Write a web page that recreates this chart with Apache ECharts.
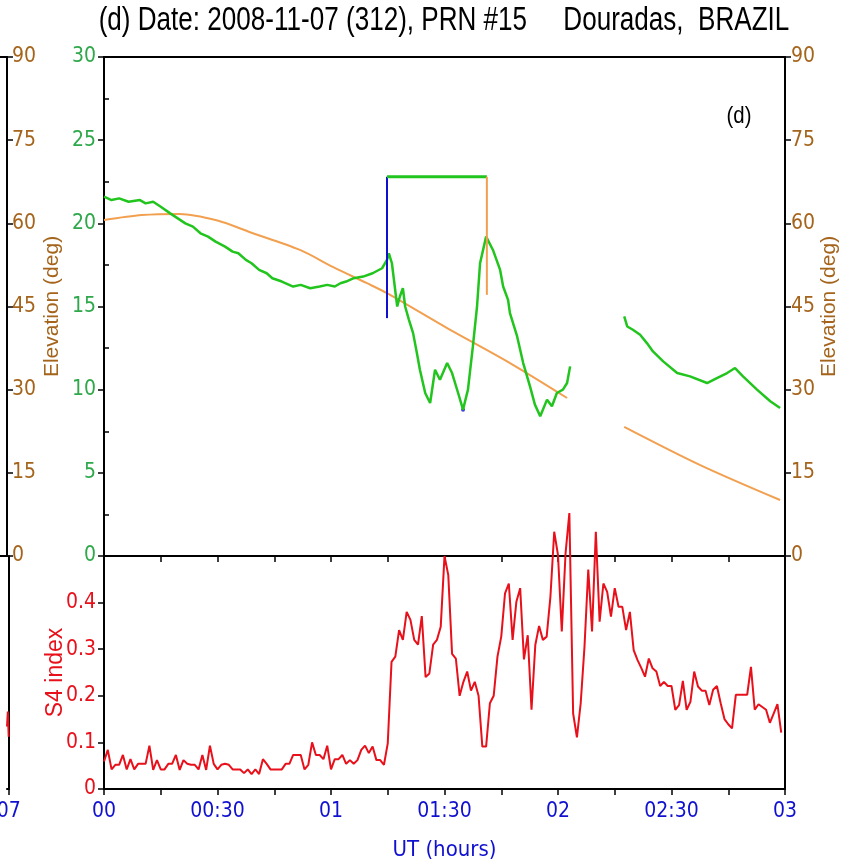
<!DOCTYPE html>
<html>
<head>
<meta charset="utf-8">
<script src="https://cdn.jsdelivr.net/npm/echarts@6/dist/echarts.min.js"></script>
<style>html,body{margin:0;padding:0;background:#fff}#c{width:850px;height:868px}</style>
</head>
<body>
<div id="c"></div>
<script>
// ---- data ----
const titleText = '(d) Date: 2008-11-07 (312), PRN #15     Douradas,  BRAZIL';
const panelTag = '(d)';
const xTickLabels = ['00', '00:30', '01', '01:30', '02', '02:30', '03']; // every 30 min
const prevTickLabel = '07';
// TEC (green, left axis 0-30), [minutes after 00 UT, value]
const tecPart1 = [[0,21.6],[2,21.4],[4,21.5],[6.5,21.3],[9.5,21.4],[11,21.2],[13,21.3],[15,21.0],[17.5,20.6],[19.5,20.3],[21.5,20.0],[23.5,19.8],[25.5,19.4],[27.5,19.2],[29.5,18.9],[32,18.6],[34,18.3],[35.5,18.2],[37.5,17.8],[39,17.6],[41,17.2],[43,17.0],[44.5,16.7],[47,16.5],[50,16.2],[52,16.3],[54.5,16.1],[57,16.2],[59,16.3],[61,16.2],[62.5,16.4],[64,16.5],[66,16.7],[68.5,16.8],[71,17.0],[73.5,17.3],[74.8,17.8],[75.3,18.2],[76.1,17.6],[77.5,15.0],[78.2,15.6],[79,16.1],[79.6,15.0],[80.6,14.2],[81.7,13.4],[82.7,12.2],[83.5,11.2],[84.9,9.8],[86.2,9.2],[87.5,11.2],[88.8,10.6],[90.7,11.6],[92,11.0],[93.6,9.8],[94.9,8.8],[96.2,10.0],[97.5,12.6],[98.6,15.0],[99.4,17.6],[101,19.2],[102.8,18.4],[104.7,17.2],[105.5,16.2],[106.8,15.4],[107.3,14.6],[109.2,13.2],[110.8,11.6],[112.6,10.2],[113.9,9.1],[115.3,8.4],[117.1,9.4],[118.4,9.0],[119.7,9.8],[121.3,10.0],[122.4,10.4],[123.2,11.4]];
const tecPart2 = [[137.5,14.4],[138.3,13.8],[139.8,13.6],[141.7,13.3],[143.5,12.8],[145.1,12.3],[147.8,11.7],[151.5,11.0],[154.9,10.8],[159.4,10.4],[162,10.7],[164.7,11.0],[166.8,11.3],[168.9,10.8],[172.6,10.0],[176.1,9.3],[178.7,8.9]];
// Elevation (orange, right axis 0-90)
const elevPart1 = [[0,60.6],[10,61.5],[20,61.7],[30,60.5],[38.6,58.4],[51.8,55.2],[60.6,52.1],[69.5,49.2],[74.8,47.4],[90.7,41.1],[107.3,34.8],[122.4,28.5]];
const elevPart2 = [[137.5,23.3],[157.6,16.4],[178.7,10.1]];
// event markers (minutes, TEC units)
const blueMark = [[74.8,14.3],[74.8,22.8]];
const greenBar = [[74.8,22.8],[101.2,22.8]];
const orangeMark = [[101.2,22.8],[101.2,15.7]];
const blueDot = [[94.9,8.8]];
// S4 index, one value per minute from 00:00 UT
const s4Values = [0.059,0.084,0.042,0.052,0.052,0.073,0.042,0.064,0.042,0.054,0.054,0.054,0.093,0.041,0.062,0.042,0.042,0.054,0.054,0.073,
0.041,0.062,0.054,0.052,0.052,0.042,0.073,0.041,0.093,0.054,0.042,0.052,0.054,0.052,0.042,0.042,0.042,0.034,0.042,0.032,
0.042,0.032,0.064,0.054,0.042,0.042,0.042,0.042,0.054,0.054,0.073,0.073,0.073,0.042,0.052,0.100,0.073,0.073,0.064,0.093,
0.042,0.064,0.064,0.073,0.054,0.062,0.054,0.062,0.084,0.093,0.077,0.091,0.062,0.062,0.052,0.098,0.273,0.284,0.341,0.320,
0.380,0.363,0.320,0.310,0.371,0.240,0.248,0.310,0.320,0.348,0.500,0.459,0.290,0.280,0.200,0.230,0.252,0.211,0.230,0.200,
0.091,0.091,0.184,0.200,0.284,0.327,0.420,0.441,0.320,0.402,0.431,0.278,0.330,0.170,0.309,0.350,0.320,0.327,0.413,0.552,
0.502,0.338,0.506,0.592,0.162,0.111,0.184,0.305,0.471,0.338,0.552,0.359,0.441,0.423,0.370,0.431,0.391,0.391,0.341,0.380,
0.298,0.277,0.260,0.241,0.280,0.259,0.252,0.221,0.230,0.221,0.221,0.170,0.180,0.232,0.170,0.187,0.252,0.220,0.211,0.211,
0.180,0.213,0.221,0.184,0.150,0.139,0.130,0.202,0.202,0.202,0.202,0.262,0.170,0.182,0.176,0.170,0.142,0.162,0.182,0.121];
// edge of the neighbouring panel (c), last minutes of its time axis
const s4Prev = [[174,0.134],[176.9,0.166],[179.8,0.112]];

// ---- style ----
const FN = "'DejaVu Sans Condensed','Liberation Sans Narrow',sans-serif";
const FR = "'Liberation Sans',Arial,sans-serif";
const GREEN = '#22c41e', GREENLBL = '#2ea84a', BROWN = '#a5641c', ORANGE = '#f2a050', RED = '#e8101a', BLUE = '#1010d0';
const AX = {lineStyle: {color: '#000', width: 2}};
const TICK = {length: 6, lineStyle: {color: '#000', width: 1.5}};

const chart = echarts.init(document.getElementById('c'), null, {renderer: 'canvas'});
const border = {show: true, borderColor: '#000', borderWidth: 2, backgroundColor: 'transparent'};
const xBase = {type: 'value', min: 0, max: 180, interval: 15, splitLine: {show: false}};
const xPrev = {type: 'value', min: 174, max: 180, interval: 6, splitLine: {show: false}};

chart.setOption({
  animation: false,
  backgroundColor: '#fff',
  graphic: [
    {type: 'text', x: 444, y: 21, scaleX: 0.79, z: 10,
      style: {text: titleText, font: "33px 'Liberation Sans', Arial, sans-serif", fill: '#000', textAlign: 'center', textVerticalAlign: 'middle'}},
    {type: 'text', x: 739, y: 116, scaleX: 0.85, z: 10,
      style: {text: panelTag, font: "24px 'Liberation Sans', Arial, sans-serif", fill: '#000', textAlign: 'center', textVerticalAlign: 'middle'}}
  ],
  grid: [
    Object.assign({left: 104, top: 57, width: 681, height: 499}, border),
    Object.assign({left: 104, top: 556, width: 681, height: 233}, border),
    {left: 0, top: 57, width: 7, height: 499, show: false},
    {left: 0, top: 556, width: 7, height: 233, show: false}
  ],
  xAxis: [
    Object.assign({}, xBase, {gridIndex: 0, axisLine: AX, axisTick: TICK, axisLabel: {show: false}}),
    Object.assign({}, xBase, {gridIndex: 1, axisLine: AX, axisTick: TICK,
      axisLabel: {color: BLUE, fontFamily: FN, fontSize: 21, margin: 12, showMinLabel: true, showMaxLabel: true,
        formatter: v => (v % 30 === 0 ? xTickLabels[v / 30] : '')},
      name: 'UT (hours)', nameLocation: 'middle', nameGap: 50, nameMoveOverlap: false,
      nameTextStyle: {color: BLUE, fontFamily: FN, fontSize: 22}}),
    Object.assign({}, xPrev, {gridIndex: 2, position: 'bottom', axisLine: AX, axisTick: {show: false}, axisLabel: {show: false}}),
    Object.assign({}, xPrev, {gridIndex: 3, position: 'bottom', axisLine: AX, axisTick: TICK,
      axisLabel: {color: BLUE, fontFamily: FN, fontSize: 21, margin: 12, showMinLabel: false, showMaxLabel: true, formatter: v => (v === 180 ? prevTickLabel : '')}}),
    Object.assign({}, xPrev, {gridIndex: 2, position: 'top', axisLine: AX, axisTick: {show: false}, axisLabel: {show: false}})
  ],
  yAxis: [
    {type: 'value', gridIndex: 0, position: 'left', min: 0, max: 30, interval: 5, splitLine: {show: false}, axisLine: AX,
      axisTick: TICK, axisLabel: {color: GREENLBL, fontFamily: FN, fontSize: 21, margin: 8}},
    {type: 'value', gridIndex: 0, position: 'right', min: 0, max: 90, interval: 15, splitLine: {show: false}, axisLine: AX,
      axisTick: TICK, axisLabel: {color: BROWN, fontFamily: FN, fontSize: 21, margin: 6},
      name: 'Elevation (deg)', nameLocation: 'middle', nameRotate: 90, nameGap: 34, nameMoveOverlap: false,
      nameTextStyle: {color: BROWN, fontFamily: FR, fontSize: 21}},
    {type: 'value', gridIndex: 0, position: 'left', min: 0, max: 30, interval: 2.5, splitLine: {show: false}, axisLine: {show: false},
      axisTick: {show: true, inside: true, length: 5, customValues: [2.5, 7.5, 12.5, 17.5, 22.5, 27.5], lineStyle: {color: '#000', width: 1.5}},
      axisLabel: {show: false}},
    {type: 'value', gridIndex: 1, position: 'left', min: 0, max: 0.5, interval: 0.1, splitLine: {show: false}, axisLine: AX,
      axisTick: TICK,
      axisLabel: {color: RED, fontFamily: FN, fontSize: 21, margin: 8, formatter: v => (v > 0.45 ? '' : (v === 0 ? '0' : v.toFixed(1)))},
      name: 'S4 index', nameLocation: 'middle', nameRotate: 90, nameGap: 37, nameMoveOverlap: false,
      nameTextStyle: {color: RED, fontFamily: FR, fontSize: 23}},
    {type: 'value', gridIndex: 1, position: 'right', min: 0, max: 0.5, splitLine: {show: false}, axisLine: AX, axisTick: {show: false}, axisLabel: {show: false}},
    {type: 'value', gridIndex: 2, position: 'right', min: 0, max: 90, interval: 15, splitLine: {show: false}, axisLine: AX,
      axisTick: TICK, axisLabel: {color: BROWN, fontFamily: FN, fontSize: 21, margin: 5},
      name: 'Elevation (deg)', nameLocation: 'middle', nameRotate: 90, nameGap: 35, nameMoveOverlap: false,
      nameTextStyle: {color: BROWN, fontFamily: FR, fontSize: 21}},
    {type: 'value', gridIndex: 3, position: 'right', min: 0, max: 0.5, splitLine: {show: false}, axisLine: AX, axisTick: {show: false}, axisLabel: {show: false}}
  ],
  series: [
    {type: 'line', xAxisIndex: 0, yAxisIndex: 1, data: elevPart1, smooth: 0.3, showSymbol: false, lineStyle: {color: ORANGE, width: 2}},
    {type: 'line', xAxisIndex: 0, yAxisIndex: 1, data: elevPart2, smooth: 0.3, showSymbol: false, lineStyle: {color: ORANGE, width: 2}},
    {type: 'line', xAxisIndex: 0, yAxisIndex: 0, data: tecPart1, showSymbol: false, lineStyle: {color: GREEN, width: 2.5}},
    {type: 'line', xAxisIndex: 0, yAxisIndex: 0, data: tecPart2, showSymbol: false, lineStyle: {color: GREEN, width: 2.5}},
    {type: 'line', xAxisIndex: 0, yAxisIndex: 0, data: blueMark, showSymbol: false, lineStyle: {color: BLUE, width: 2}},
    {type: 'line', xAxisIndex: 0, yAxisIndex: 0, data: greenBar, showSymbol: false, lineStyle: {color: GREEN, width: 3}},
    {type: 'line', xAxisIndex: 0, yAxisIndex: 0, data: orangeMark, showSymbol: false, lineStyle: {color: ORANGE, width: 2}},
    {type: 'scatter', xAxisIndex: 0, yAxisIndex: 0, data: blueDot, symbolSize: 4, itemStyle: {color: BLUE}},
    {type: 'line', xAxisIndex: 1, yAxisIndex: 3, data: s4Values.map((v, i) => [i, v]), clip: false, showSymbol: false, lineStyle: {color: RED, width: 2}},
    {type: 'line', xAxisIndex: 3, yAxisIndex: 6, data: s4Prev, showSymbol: false, lineStyle: {color: RED, width: 2}}
  ]
});
</script>
</body>
</html>
